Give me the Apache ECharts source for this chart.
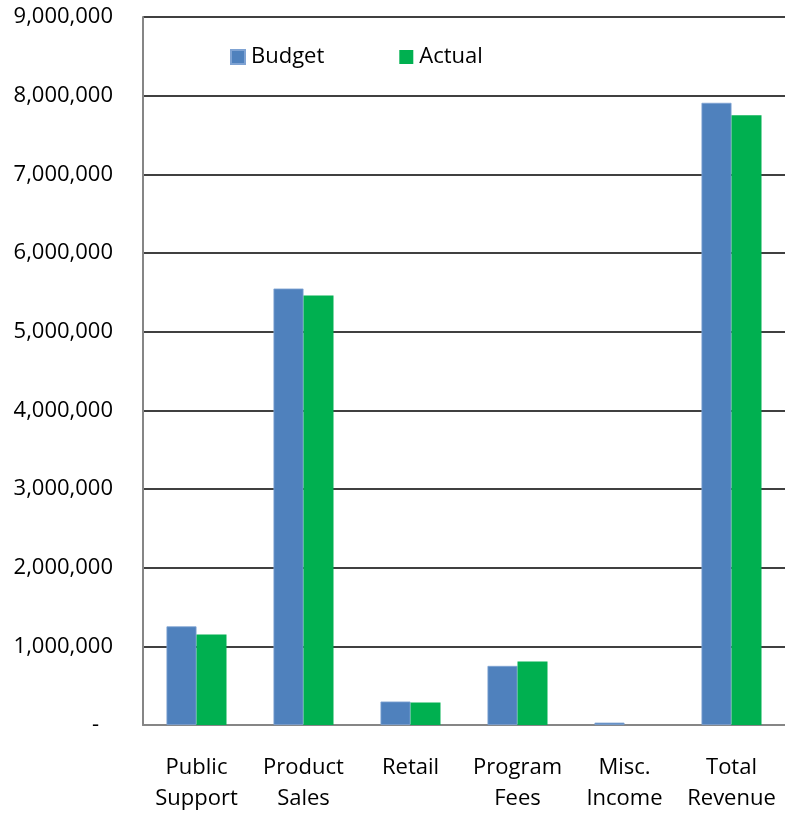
<!DOCTYPE html>
<html>
<head>
<meta charset="utf-8">
<script src="https://cdn.jsdelivr.net/npm/echarts@6/dist/echarts.min.js"></script>
<style>
html,body{margin:0;padding:0;background:#fff;}
#chart{width:785px;height:814px;}
</style>
</head>
<body>
<div id="chart"></div>
<script>
const categories = ['Public\nSupport', 'Product\nSales', 'Retail', 'Program\nFees', 'Misc.\nIncome', 'Total\nRevenue'];
const budget = [1254000, 5548000, 298000, 751000, 30000, 7909000];
const actual = [1152000, 5459000, 286000, 806000, 0, 7751000];
const yTicks = { min: 0, max: 9000000, interval: 1000000 };

const FONT = 'Open Sans';
const chart = echarts.init(document.getElementById('chart'), null, { renderer: 'canvas' });
chart.setOption({
  animation: false,
  backgroundColor: '#ffffff',
  textStyle: { fontFamily: FONT },
  legend: {
    left: 230,
    top: 46,
    padding: 0,
    itemWidth: 14,
    itemHeight: 14,
    itemGap: 75,
    icon: 'rect',
    textStyle: { fontFamily: FONT, fontSize: 22, color: '#000', padding: [0, 0, 0, 1] },
    data: ['Budget', 'Actual']
  },
  grid: { left: 143, right: 0, top: 17, bottom: 86, containLabel: false },
  xAxis: {
    type: 'category',
    data: categories,
    axisLine: { lineStyle: { color: '#868686', width: 2 } },
    axisTick: { show: false },
    axisLabel: {
      interval: 0,
      margin: 27,
      fontFamily: FONT,
      fontSize: 22,
      lineHeight: 31,
      color: '#000'
    }
  },
  yAxis: {
    type: 'value',
    min: yTicks.min,
    max: yTicks.max,
    interval: yTicks.interval,
    axisLine: { show: true, lineStyle: { color: '#868686', width: 2 } },
    axisTick: { show: false },
    splitLine: { show: true, lineStyle: { color: '#000', width: 1.6 } },
    axisLabel: {
      margin: 30,
      fontFamily: FONT,
      fontSize: 22,
      color: '#000',
      formatter: function (v) {
        if (v === 0) return '{z|-}';
        return v.toLocaleString('en-US');
      },
      rich: { z: { fontFamily: FONT, fontSize: 22, color: '#000', padding: [0, 14, 0, 0] } }
    }
  },
  series: [
    {
      name: 'Budget', type: 'bar', data: budget, barWidth: 30, barGap: '0%', z: 1,
      itemStyle: { color: '#4F81BD', borderColor: '#7FA3D3', borderWidth: 0.8 }
    },
    {
      name: 'Actual', type: 'bar', data: actual, barWidth: 30, barGap: '0%', z: 1,
      itemStyle: { color: '#00B050', borderColor: '#40C47A', borderWidth: 0 }
    }
  ]
});
</script>
</body>
</html>
